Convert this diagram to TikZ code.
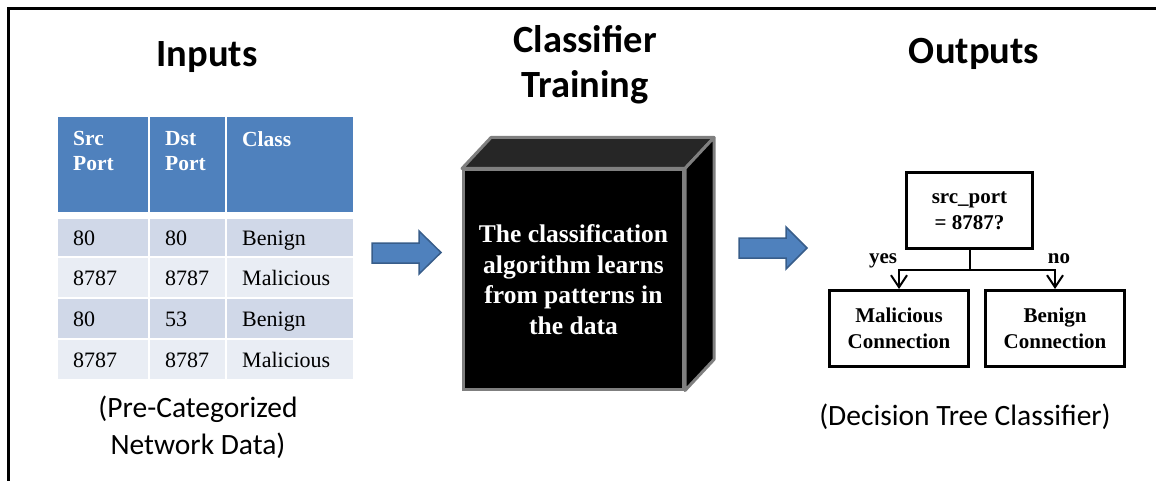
\documentclass[tikz,border=0pt]{standalone}
\usepackage{fontspec}
\setmainfont{Liberation Serif}
\newfontfamily\calibri{Carlito}
\usetikzlibrary{arrows.meta,calc}
\definecolor{hdrblue}{HTML}{4F81BD}
\definecolor{rowA}{HTML}{D0D8E8}
\definecolor{rowB}{HTML}{E9EDF4}
\definecolor{arrowedge}{HTML}{385D8A}
\definecolor{boxedge}{HTML}{7F7F7F}
\definecolor{boxtop}{HTML}{262626}
\begin{document}
\begin{tikzpicture}[x=1pt,y=-1pt,
  title/.style={font=\calibri\bfseries\fontsize{38.5}{45}\selectfont, inner sep=0, align=center},
  caption/.style={font=\calibri\fontsize{29.5}{37}\selectfont, inner sep=0, align=center},
  cellbox/.style={inner sep=0, outer sep=0, anchor=north west, draw=none},
  hdr/.style={font=\bfseries\fontsize{21.5}{25}\selectfont, text=white, inner sep=0, align=left, anchor=north west},
  celltxt/.style={font=\fontsize{22}{25}\selectfont, inner sep=0, anchor=base west},
  blockarrow/.style={fill=hdrblue, draw=arrowedge, line width=1.5, line join=miter},
  treebox/.style={draw=black, line width=3, inner sep=0, align=center, font=\bfseries\fontsize{21}{26}\selectfont},
  treelabel/.style={font=\bfseries\fontsize{21}{24}\selectfont, inner sep=0, anchor=base},
  treearrow/.style={line width=2, -{Straight Barb[length=12pt,width=16pt,line width=2pt]}},
]
\useasboundingbox (0,0) rectangle (1156,481);
% frame
\draw[line width=3.5] (8.5,481) -- (8.5,8.5) -- (1156,8.5);

% titles
\node[title, anchor=base] (tin) at (207,67) {Inputs};
\node[title] (ttr) at (585,65) {Classifier\\Training};
\node[title, anchor=base] (tout) at (974,64) {Outputs};

% table
\node[cellbox, fill=hdrblue, minimum width=90, minimum height=95] (h1) at (58,117) {};
\node[cellbox, fill=hdrblue, minimum width=75, minimum height=95] (h2) at (150,117) {};
\node[cellbox, fill=hdrblue, minimum width=126, minimum height=95] (h3) at (227,117) {};
\node[hdr] (h1t) at (73,131.5) {Src\\Port};
\node[hdr] (h2t) at (165,131.5) {Dst\\Port};
\node[hdr] (h3t) at (242,131.5) {Class};

\node[cellbox, fill=rowA, minimum width=90, minimum height=37] (a1) at (58,219) {};
\node[cellbox, fill=rowA, minimum width=75, minimum height=37] (a2) at (150,219) {};
\node[cellbox, fill=rowA, minimum width=126, minimum height=37] (a3) at (227,219) {};
\node[cellbox, fill=rowB, minimum width=90, minimum height=39] (b1) at (58,258) {};
\node[cellbox, fill=rowB, minimum width=75, minimum height=39] (b2) at (150,258) {};
\node[cellbox, fill=rowB, minimum width=126, minimum height=39] (b3) at (227,258) {};
\node[cellbox, fill=rowA, minimum width=90, minimum height=39] (c1) at (58,299) {};
\node[cellbox, fill=rowA, minimum width=75, minimum height=39] (c2) at (150,299) {};
\node[cellbox, fill=rowA, minimum width=126, minimum height=39] (c3) at (227,299) {};
\node[cellbox, fill=rowB, minimum width=90, minimum height=39] (d1) at (58,340) {};
\node[cellbox, fill=rowB, minimum width=75, minimum height=39] (d2) at (150,340) {};
\node[cellbox, fill=rowB, minimum width=126, minimum height=39] (d3) at (227,340) {};

\node[celltxt] (a1t) at (73,245) {80};
\node[celltxt] (a2t) at (165,245) {80};
\node[celltxt] (a3t) at (242,245) {Benign};
\node[celltxt] (b1t) at (73,285.5) {8787};
\node[celltxt] (b2t) at (165,285.5) {8787};
\node[celltxt] (b3t) at (242,285.5) {Malicious};
\node[celltxt] (c1t) at (73,326.5) {80};
\node[celltxt] (c2t) at (165,326.5) {53};
\node[celltxt] (c3t) at (242,326.5) {Benign};
\node[celltxt] (d1t) at (73,367.5) {8787};
\node[celltxt] (d2t) at (165,367.5) {8787};
\node[celltxt] (d3t) at (242,367.5) {Malicious};

\node[caption] (cin) at (198,427) {(Pre-Categorized\\Network Data)};

% block arrows
\draw[blockarrow] (372,243) -- (419,243) -- (419,231) -- (441,252.5) -- (419,274) -- (419,263) -- (372,263) -- cycle;
\draw[blockarrow] (739,238) -- (786,238) -- (786,227) -- (807,248) -- (786,269) -- (786,258) -- (739,258) -- cycle;

% black box
\node[fill=black, draw=boxedge, line width=3, minimum width=220, minimum height=219, inner sep=0,
      text=white, align=center, font=\bfseries\fontsize{25.5}{30.5}\selectfont] (box) at (573.5,279.5)
      {The classification\\algorithm learns\\from patterns in\\the data};
\draw[fill=boxtop, draw=boxedge, line width=3, line join=round]
  (box.north west) -- ($(box.north west)+(29,-31)$) -- ($(box.north east)+(29,-31)$) -- (box.north east) -- cycle;
\draw[fill=black, draw=boxedge, line width=3, line join=round]
  (box.north east) -- ($(box.north east)+(29,-31)$) -- ($(box.south east)+(29,-31)$) -- (box.south east) -- cycle;

% decision tree
\node[treebox, minimum width=126, minimum height=76] (q) at (969.5,210.5) {src\_port\\= 8787?};
\node[treebox, minimum width=139, minimum height=76] (mal) at (899,328.5) {Malicious\\Connection};
\node[treebox, minimum width=139, minimum height=76] (ben) at (1055,328.5) {Benign\\Connection};
\draw[line width=2] (q.south) -- ++(0,20) coordinate (split);
\draw[treearrow] (split) -| (mal.north);
\draw[treearrow] (split) -| (ben.north);
\node[treelabel] (yes) at (883,263) {yes};
\node[treelabel] (no) at (1059,263) {no};

\node[caption, anchor=base] (cout) at (965,425) {(Decision Tree Classifier)};
\end{tikzpicture}
\end{document}
